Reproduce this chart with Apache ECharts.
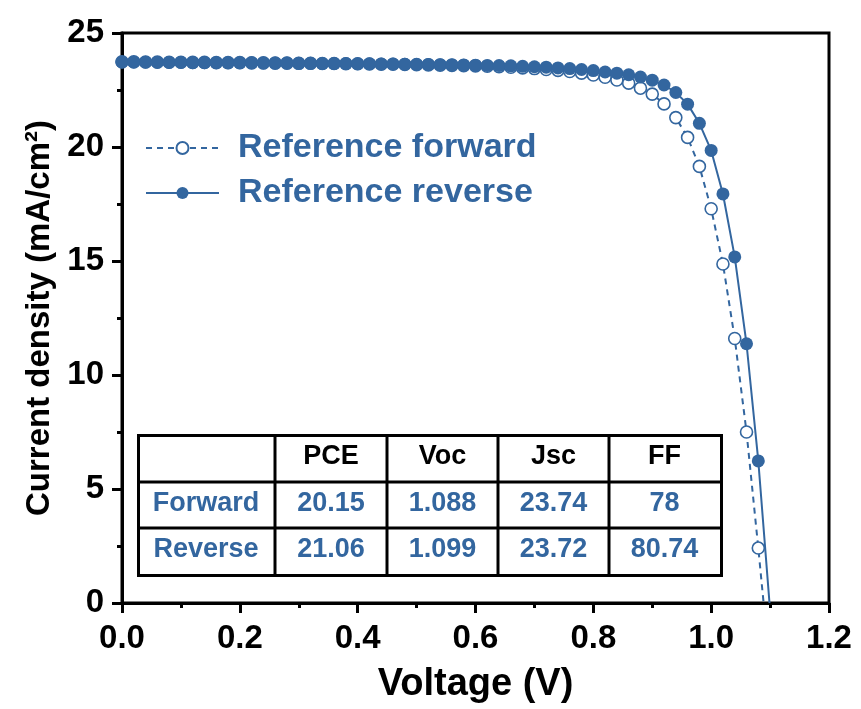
<!DOCTYPE html>
<html>
<head>
<meta charset="utf-8">
<script src="https://cdn.jsdelivr.net/npm/echarts@6/dist/echarts.min.js"></script>
<style>
html,body{margin:0;padding:0;background:#fff;}
#chart{width:861px;height:709px;}
</style>
</head>
<body>
<div id="chart"></div>
<script>
// ---- data ----
const voltages = [0.00,0.02,0.04,0.06,0.08,0.10,0.12,0.14,0.16,0.18,0.20,0.22,0.24,0.26,0.28,0.30,0.32,0.34,0.36,0.38,0.40,0.42,0.44,0.46,0.48,0.50,0.52,0.54,0.56,0.58,0.60,0.62,0.64,0.66,0.68,0.70,0.72,0.74,0.76,0.78,0.80,0.82,0.84,0.86,0.88,0.90,0.92,0.94,0.96,0.98,1.00,1.02,1.04,1.06,1.08];
const forwardJ = [23.74,23.74,23.73,23.73,23.72,23.72,23.71,23.71,23.70,23.70,23.70,23.69,23.69,23.68,23.68,23.67,23.67,23.66,23.66,23.65,23.65,23.64,23.63,23.63,23.62,23.61,23.60,23.59,23.58,23.57,23.56,23.54,23.52,23.50,23.47,23.44,23.40,23.36,23.31,23.24,23.16,23.06,22.94,22.80,22.58,22.32,21.89,21.29,20.42,19.15,17.29,14.87,11.60,7.50,2.41];
const reverseJ = [23.72,23.72,23.72,23.71,23.71,23.71,23.70,23.70,23.70,23.69,23.69,23.69,23.68,23.68,23.68,23.67,23.67,23.66,23.66,23.66,23.65,23.65,23.64,23.64,23.63,23.63,23.62,23.61,23.61,23.60,23.59,23.58,23.57,23.56,23.54,23.52,23.50,23.47,23.44,23.40,23.35,23.29,23.24,23.17,23.07,22.93,22.72,22.39,21.88,21.04,19.85,17.94,15.18,11.37,6.23];
// open-circuit end points (line reaches J = 0)
const forwardEnd = [1.089, 0];
const reverseEnd = [1.099, 0];

const seriesNames = ['Reference forward', 'Reference reverse'];
const xTickLabels = ['0.0','0.2','0.4','0.6','0.8','1.0','1.2'];
const yTickLabels = ['0','5','10','15','20','25'];

const tableHeader = ['', 'PCE', 'Voc', 'Jsc', 'FF'];
const tableRowForward = ['Forward', '20.15', '1.088', '23.74', '78'];
const tableRowReverse = ['Reverse', '21.06', '1.099', '23.72', '80.74'];

// ---- style ----
const BLUE = '#33669f';
const FONT = '"Liberation Sans", Arial, sans-serif';

function buildSeriesData(ys, end) {
  const d = voltages.map((v, i) => [v, ys[i]]);
  d.push({ value: end, symbol: 'none' });
  return d;
}

// table graphic
function buildTable() {
  const left = 137, top = 434;
  const colW = [138, 112, 111, 111, 111];
  const rowH = [48, 46, 46];
  const rows = [tableHeader, tableRowForward, tableRowReverse];
  const totalW = colW.reduce((a, b) => a + b, 0);
  const totalH = rowH.reduce((a, b) => a + b, 0);
  const els = [];
  els.push({ type: 'rect', left: left, top: top, shape: { width: totalW, height: totalH },
    style: { fill: '#fff', stroke: '#000', lineWidth: 3 }, z: 10 });
  let x = left;
  for (let c = 0; c < colW.length - 1; c++) {
    x += colW[c];
    els.push({ type: 'line', shape: { x1: x, y1: top, x2: x, y2: top + totalH },
      style: { stroke: '#000', lineWidth: 3 }, z: 11 });
  }
  let y = top;
  for (let r = 0; r < rowH.length - 1; r++) {
    y += rowH[r];
    els.push({ type: 'line', shape: { x1: left, y1: y, x2: left + totalW, y2: y },
      style: { stroke: '#000', lineWidth: 3 }, z: 11 });
  }
  y = top;
  rows.forEach((row, r) => {
    let cx = left;
    row.forEach((txt, c) => {
      if (txt) {
        els.push({ type: 'text', x: cx + colW[c] / 2, y: y + rowH[r] / 2 - 1,
          style: { text: txt, fill: r === 0 ? '#000' : BLUE, font: 'bold 27px ' + FONT,
            textAlign: 'center', textVerticalAlign: 'middle' }, z: 12 });
      }
      cx += colW[c];
    });
    y += rowH[r];
  });
  return els;
}

const chart = echarts.init(document.getElementById('chart'), null, { renderer: 'canvas' });
chart.setOption({
  backgroundColor: '#fff',
  animation: false,
  textStyle: { fontFamily: FONT },
  grid: { left: 122, top: 33, right: 32, bottom: 105, show: true, borderColor: '#000', borderWidth: 3, backgroundColor: 'transparent' },
  legend: {
    orient: 'vertical', left: 140, top: 126,
    itemWidth: 73, itemHeight: 15, itemGap: 11,
    data: seriesNames,
    textStyle: { color: BLUE, fontSize: 34, fontWeight: 'bold', fontFamily: FONT, padding: [0, 0, 0, 14] }
  },
  xAxis: {
    type: 'value', min: 0, max: 1.2, interval: 0.2,
    name: 'Voltage (V)', nameLocation: 'middle', nameGap: 63,
    nameTextStyle: { fontSize: 38, fontWeight: 'bold', color: '#000', fontFamily: FONT },
    axisLine: { show: true, onZero: false, lineStyle: { color: '#000', width: 3 } },
    axisTick: { show: true, inside: false, length: 10, lineStyle: { width: 3, color: '#000' } },
    minorTick: { show: true, splitNumber: 2, length: 5, lineStyle: { width: 3, color: '#000' } },
    splitLine: { show: false },
    axisLabel: { fontSize: 33, fontWeight: 'bold', color: '#000', margin: 19, fontFamily: FONT,
      formatter: v => xTickLabels[Math.round(v / 0.2)] }
  },
  yAxis: {
    type: 'value', min: 0, max: 25, interval: 5,
    name: 'Current density (mA/cm²)', nameLocation: 'middle', nameGap: 62, nameRotate: 90,
    nameTextStyle: { fontSize: 33, fontWeight: 'bold', color: '#000', fontFamily: FONT },
    axisLine: { show: true, onZero: false, lineStyle: { color: '#000', width: 3 } },
    axisTick: { show: true, inside: false, length: 10, lineStyle: { width: 3, color: '#000' } },
    minorTick: { show: true, splitNumber: 2, length: 5, lineStyle: { width: 3, color: '#000' } },
    splitLine: { show: false },
    axisLabel: { fontSize: 33, fontWeight: 'bold', color: '#000', margin: 18, fontFamily: FONT,
      formatter: v => yTickLabels[Math.round(v / 5)] }
  },
  series: [
    {
      name: seriesNames[0], type: 'line', z: 3,
      data: buildSeriesData(forwardJ, forwardEnd),
      symbol: 'circle', symbolSize: 12, showAllSymbol: true,
      itemStyle: { color: '#fff', borderColor: BLUE, borderWidth: 1.6 },
      lineStyle: { color: BLUE, width: 2, type: [6, 5] }
    },
    {
      name: seriesNames[1], type: 'line', z: 4,
      data: buildSeriesData(reverseJ, reverseEnd),
      symbol: 'circle', symbolSize: 13, showAllSymbol: true,
      itemStyle: { color: BLUE, borderColor: BLUE, borderWidth: 0 },
      lineStyle: { color: BLUE, width: 2, type: 'solid' }
    }
  ],
  graphic: buildTable()
});
</script>
</body>
</html>
